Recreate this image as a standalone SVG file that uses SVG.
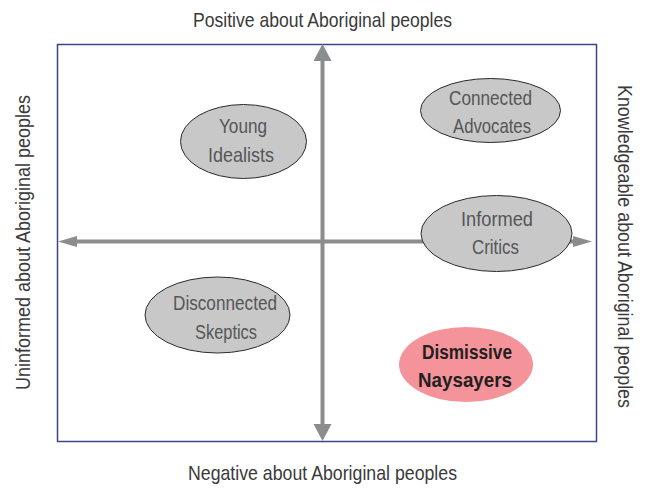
<svg xmlns="http://www.w3.org/2000/svg" width="649" height="491" viewBox="0 0 649 491">
<defs>
<style>
.lbl{font-family:"Liberation Sans",Arial,sans-serif;font-size:21px;fill:#3a3a3a;text-anchor:middle}
.nt{font-family:"Liberation Sans",Arial,sans-serif;font-size:21px;fill:#555657;text-anchor:middle}
.nb{font-family:"Liberation Sans",Arial,sans-serif;font-size:21px;font-weight:bold;fill:#231f20;text-anchor:middle}
.ge{fill:#c8c8c9;stroke:#2b2b2b;stroke-width:1}
.ax{stroke:#8b8c8e;stroke-width:4;fill:none}
.ah{fill:#8b8c8e}
</style>
</defs>
<rect x="57.5" y="44.5" width="539" height="397" fill="#ffffff" stroke="#3b4688" stroke-width="1.5"/>
<g id="connectors">
<line class="ax" x1="322.5" y1="58" x2="322.5" y2="427"/>
<polygon class="ah" points="322.5,44 331.5,61 313.5,61"/>
<polygon class="ah" points="322.5,441 331.5,424 313.5,424"/>
<line class="ax" x1="74" y1="241.5" x2="578" y2="241.5"/>
<polygon class="ah" points="58,241.5 77,236 77,247"/>
<polygon class="ah" points="592,241.5 573,236 573,247"/>
</g>
<g id="axis-labels">
<text class="lbl" x="322.5" y="27" textLength="259" lengthAdjust="spacingAndGlyphs">Positive about Aboriginal peoples</text>
<text class="lbl" x="322.5" y="480" textLength="269" lengthAdjust="spacingAndGlyphs">Negative about Aboriginal peoples</text>
<text class="lbl" transform="translate(30,242.5) rotate(-90)" textLength="295" lengthAdjust="spacingAndGlyphs">Uninformed about Aboriginal peoples</text>
<text class="lbl" transform="translate(618,246.5) rotate(90)" textLength="323" lengthAdjust="spacingAndGlyphs">Knowledgeable about Aboriginal peoples</text>
</g>
<g id="young-idealists">
<ellipse class="ge" cx="243.5" cy="141.5" rx="63" ry="37"/>
<text class="nt" x="243" y="133" textLength="48" lengthAdjust="spacingAndGlyphs">Young</text>
<text class="nt" x="241" y="162" textLength="66" lengthAdjust="spacingAndGlyphs">Idealists</text>
</g>
<g id="connected-advocates">
<ellipse class="ge" cx="490.5" cy="110.5" rx="70" ry="32"/>
<text class="nt" x="490.5" y="105" textLength="83" lengthAdjust="spacingAndGlyphs">Connected</text>
<text class="nt" x="492" y="133" textLength="78" lengthAdjust="spacingAndGlyphs">Advocates</text>
</g>
<g id="informed-critics">
<ellipse class="ge" cx="496.5" cy="233.5" rx="75.5" ry="38"/>
<text class="nt" x="497" y="226" textLength="72" lengthAdjust="spacingAndGlyphs">Informed</text>
<text class="nt" x="495.5" y="254" textLength="47" lengthAdjust="spacingAndGlyphs">Critics</text>
</g>
<g id="disconnected-skeptics">
<ellipse class="ge" cx="217.5" cy="315" rx="72.5" ry="38"/>
<text class="nt" x="225" y="310" textLength="104" lengthAdjust="spacingAndGlyphs">Disconnected</text>
<text class="nt" x="226" y="339" textLength="62" lengthAdjust="spacingAndGlyphs">Skeptics</text>
</g>
<g id="dismissive-naysayers">
<ellipse cx="466" cy="364.5" rx="67" ry="37.5" fill="#f4949a"/>
<text class="nb" x="467" y="359" textLength="90" lengthAdjust="spacingAndGlyphs">Dismissive</text>
<text class="nb" x="465" y="387" textLength="94" lengthAdjust="spacingAndGlyphs">Naysayers</text>
</g>
</svg>
